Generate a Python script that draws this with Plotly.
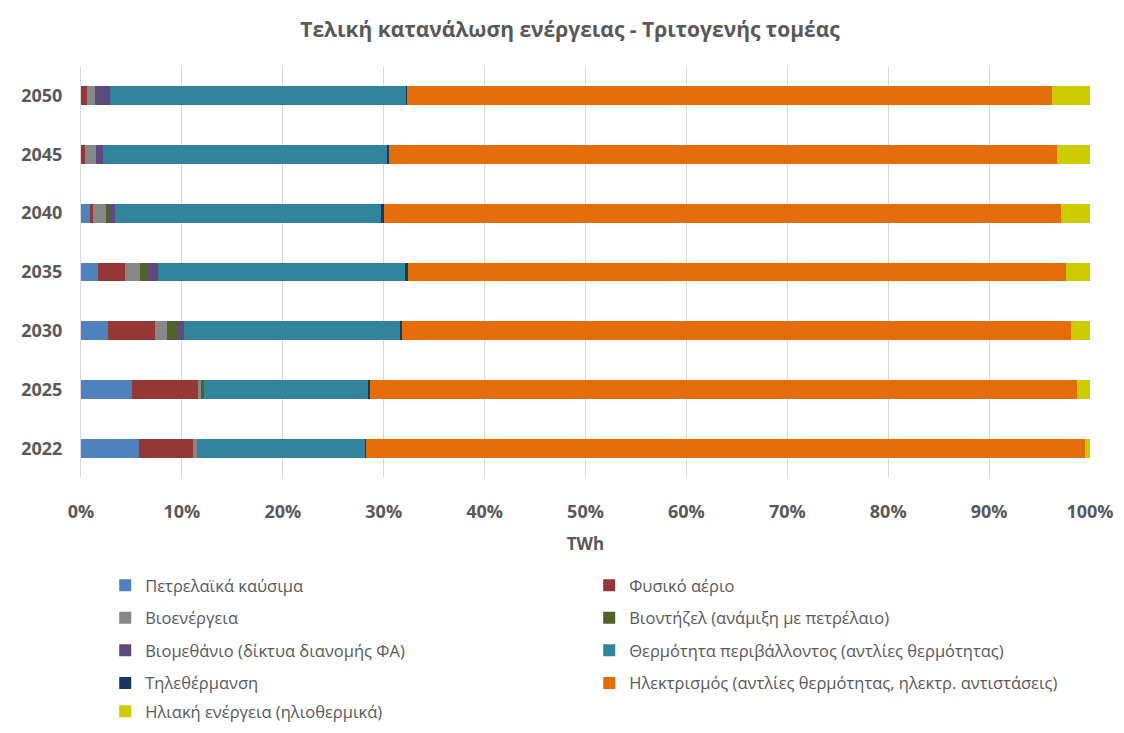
import plotly.graph_objects as go

years = ["2022", "2025", "2030", "2035", "2040", "2045", "2050"]

names = [
    "Πετρελαϊκά καύσιμα",
    "Φυσικό αέριο",
    "Βιοενέργεια",
    "Βιοντήζελ (ανάμιξη με πετρέλαιο)",
    "Βιομεθάνιο (δίκτυα διανομής ΦΑ)",
    "Θερμότητα περιβάλλοντος (αντλίες θερμότητας)",
    "Τηλεθέρμανση",
    "Ηλεκτρισμός (αντλίες θερμότητας, ηλεκτρ. αντιστάσεις)",
    "Ηλιακή ενέργεια (ηλιοθερμικά)",
]

# shares (%) per year, in order 2022..2050
petroleum = [5.8, 5.1, 2.7, 1.65, 0.86, 0.0, 0.0]
natural_gas = [5.3, 6.5, 4.6, 2.75, 0.34, 0.4, 0.6]
bioenergy = [0.4, 0.3, 1.2, 1.4, 1.3, 1.1, 0.8]
biodiesel = [0.0, 0.3, 1.0, 0.8, 0.3, 0.0, 0.0]
biomethane = [0.0, 0.0, 0.7, 1.0, 0.6, 0.7, 1.5]
ambient_heat = [16.7, 16.2, 21.4, 24.5, 26.4, 28.1, 29.4]
district_heat = [0.05, 0.2, 0.2, 0.3, 0.3, 0.2, 0.05]
electricity = [71.3, 70.1, 66.3, 65.2, 67.1, 66.2, 63.9]
solar = [0.5, 1.3, 1.9, 2.4, 2.9, 3.3, 3.8]

series = [petroleum, natural_gas, bioenergy, biodiesel, biomethane,
          ambient_heat, district_heat, electricity, solar]
colors = ["#4f81bd", "#953735", "#878787", "#4f6228", "#604a7b",
          "#31849b", "#17375e", "#e46c0a", "#cccc00"]

legend_ids = ["legend", "legend", "legend2", "legend2", "legend3", "legend3",
              "legend4", "legend4", "legend5"]

fig = go.Figure()
for n, vals, c, lg in zip(names, series, colors, legend_ids):
    fig.add_trace(go.Bar(y=years, x=vals, name=n, orientation="h", legend=lg,
                         marker=dict(color=c, line=dict(width=0))))

font_fam = "Open Sans, Liberation Sans, sans-serif"
grey = "#595959"
leg_rows_y = [-0.261, -0.340, -0.419, -0.498, -0.567]


def leg(y):
    return dict(orientation="h", x=0.024, xanchor="left", y=y, yanchor="middle",
                entrywidth=439, entrywidthmode="pixels", traceorder="normal",
                font=dict(size=16.5, color=grey, family=font_fam),
                bgcolor="rgba(0,0,0,0)")


fig.update_layout(
    barmode="stack",
    barnorm="percent",
    bargap=0.68,
    width=1124, height=733,
    paper_bgcolor="white", plot_bgcolor="white",
    margin=dict(l=73, r=42, t=58, b=258),
    font=dict(family=font_fam, color=grey, size=14),
    title=dict(text="<b>Τελική κατανάλωση ενέργειας - Τριτογενής τομέας</b>",
               x=0.5, xanchor="center", y=0.970, yanchor="middle",
               font=dict(size=21, color=grey)),
    xaxis=dict(range=[0, 100], dtick=10, tickprefix="<b>", ticksuffix="%</b>",
               showgrid=True, gridcolor="#d9d9d9", gridwidth=1,
               zeroline=False, showline=False, automargin=False,
               ticklabelstandoff=21,
               tickfont=dict(size=18, color=grey),
               title=dict(text="<b>TWh</b>", font=dict(size=17, color=grey), standoff=16)),
    yaxis=dict(showgrid=False, showline=True, linecolor="#d9d9d9", automargin=False,
               tickprefix="<b>", ticksuffix="</b>", ticklabelstandoff=14,
               tickfont=dict(size=18, color=grey)),
    legend=leg(leg_rows_y[0]),
    legend2=leg(leg_rows_y[1]),
    legend3=leg(leg_rows_y[2]),
    legend4=leg(leg_rows_y[3]),
    legend5=leg(leg_rows_y[4]),
)
fig.write_html("out.html")
